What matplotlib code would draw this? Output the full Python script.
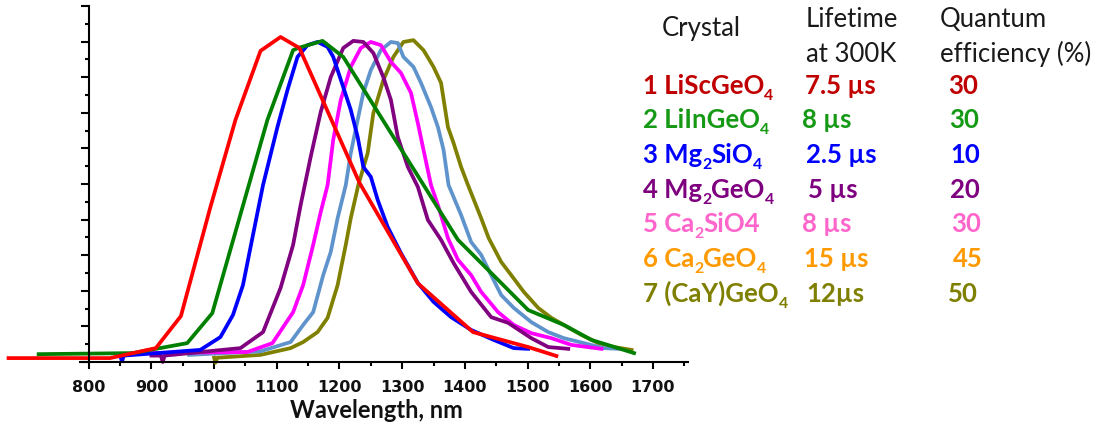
import matplotlib
matplotlib.use('Agg')
import matplotlib.pyplot as plt
from matplotlib.ticker import MultipleLocator

# Emission spectra (wavelength in nm, intensity in arbitrary units)
red_wl = [672, 834, 907, 947, 994, 1034, 1074, 1106, 1136, 1232, 1325, 1413, 1501, 1546]
red_int = [0.11, 0.11, 0.39, 1.29, 4.35, 6.80, 8.74, 9.13, 8.82, 5.03, 2.21, 0.84, 0.42, 0.17]

green_wl = [720, 870, 957, 997, 1085, 1126, 1134, 1173, 1206, 1389, 1442, 1501, 1558, 1602, 1670]
green_int = [0.22, 0.25, 0.53, 1.37, 6.80, 8.76, 8.82, 9.02, 8.57, 3.43, 2.50, 1.46, 1.04, 0.62, 0.25]

blue_wl = [850, 853, 856, 978, 1010, 1030, 1046, 1062, 1078, 1101, 1117, 1133, 1149, 1165,
           1181, 1190, 1206, 1218, 1229, 1238, 1250, 1261, 1277, 1298, 1325, 1350, 1378,
           1410, 1446, 1478, 1501]
blue_int = [0.18, 0.02, 0.18, 0.34, 0.70, 1.32, 2.16, 3.57, 4.97, 6.60, 7.64, 8.57, 8.90, 8.99,
            8.85, 8.57, 7.72, 7.08, 6.32, 5.48, 5.20, 4.55, 3.79, 3.06, 2.22, 1.69, 1.26,
            0.90, 0.62, 0.39, 0.37]

purple_wl = [900, 915, 918, 921, 1042, 1078, 1106, 1126, 1138, 1154, 1170, 1186, 1206, 1222,
             1238, 1254, 1270, 1282, 1293, 1309, 1325, 1341, 1362, 1382, 1410, 1442, 1469,
             1506, 1533, 1565]
purple_int = [0.18, 0.18, 0.0, 0.18, 0.39, 0.84, 2.08, 3.29, 4.41, 5.76, 7.02, 8.00, 8.82, 9.02,
              8.99, 8.68, 8.00, 7.36, 6.32, 5.48, 4.92, 3.99, 3.43, 2.78, 1.97, 1.26, 1.10,
              0.67, 0.42, 0.37]

magenta_wl = [870, 1053, 1093, 1126, 1142, 1158, 1170, 1181, 1190, 1202, 1218, 1234, 1250,
              1266, 1282, 1298, 1314, 1325, 1334, 1346, 1357, 1373, 1389, 1410, 1426, 1453,
              1478, 1506, 1538, 1570, 1618]
magenta_int = [0.25, 0.28, 0.53, 1.40, 2.16, 3.29, 4.21, 4.97, 6.24, 7.36, 8.29, 8.82, 8.99,
               8.90, 8.43, 8.12, 7.56, 6.71, 5.96, 4.97, 4.41, 3.48, 2.87, 2.44, 1.97, 1.40,
               1.04, 0.81, 0.67, 0.48, 0.37]

steel_wl = [960, 1074, 1122, 1142, 1158, 1174, 1186, 1197, 1210, 1218, 1229, 1238, 1250, 1266,
            1282, 1293, 1302, 1318, 1330, 1346, 1357, 1366, 1374, 1394, 1410, 1426, 1442, 1458,
            1478, 1506, 1533, 1558, 1590, 1622, 1645]
steel_int = [0.2, 0.3, 0.56, 1.04, 1.40, 2.44, 3.09, 4.04, 4.97, 5.87, 6.80, 7.56, 8.20, 8.76,
             8.99, 8.96, 8.57, 8.29, 7.84, 7.16, 6.60, 5.96, 4.97, 4.13, 3.37, 3.01, 2.44, 1.88,
             1.52, 1.12, 0.84, 0.67, 0.53, 0.39, 0.37]

olive_wl = [1000, 1002, 1005, 1074, 1122, 1142, 1165, 1181, 1197, 1210, 1218, 1230, 1245, 1254,
            1270, 1286, 1302, 1318, 1334, 1350, 1362, 1373, 1382, 1394, 1405, 1426, 1438, 1458,
            1474, 1494, 1517, 1538, 1558, 1586, 1613, 1638, 1666]
olive_int = [0.12, -0.02, 0.12, 0.2, 0.39, 0.56, 0.84, 1.24, 2.16, 3.29, 4.04, 4.97, 5.87, 6.99,
             7.92, 8.57, 8.99, 9.04, 8.76, 8.29, 7.84, 6.60, 6.15, 5.48, 4.97, 4.04, 3.48, 2.81,
             2.44, 1.97, 1.52, 1.24, 1.04, 0.76, 0.53, 0.42, 0.34]

# Table of crystal properties ('_' marks a one-character subscript)
crystals = ['1 LiScGeO_4', '2 LiInGeO_4', '3 Mg_2SiO_4', '4 Mg_2GeO_4',
            '5 Ca_2SiO4', '6 Ca_2GeO_4', '7 (CaY)GeO_4']
lifetimes = ['7.5 µs', '8 µs', '2.5 µs', '5 µs', '8 µs', '15 µs', '12µs']
efficiencies = ['30', '30', '10', '20', '30', '45', '50']
text_colors = ['#C00000', '#169A16', '#0000FF', '#7F007F', '#FF66CC', '#FF9900', '#7F7F00']

W, H = 1104, 437
FS = 18.5

fig = plt.figure(figsize=(W / 100, H / 100), dpi=100)
ax = fig.add_axes([80 / W, 1 - 362 / H, 608 / W, 356 / H])

series = [
    (olive_wl, olive_int, '#808000'),
    (steel_wl, steel_int, '#5F93CB'),
    (magenta_wl, magenta_int, '#FF00FF'),
    (purple_wl, purple_int, '#800080'),
    (blue_wl, blue_int, '#0000FF'),
    (green_wl, green_int, '#008000'),
    (red_wl, red_int, '#FF0000'),
]
for wl, inten, color in series:
    ax.plot(wl, inten, color=color, linewidth=2.7, clip_on=False,
            solid_joinstyle='round')

ax.set_xlim(786, 1756)
ax.set_ylim(0, 10)
ax.spines['left'].set_position(('data', 800))
ax.spines['top'].set_visible(False)
ax.spines['right'].set_visible(False)
for side in ('left', 'bottom'):
    ax.spines[side].set_linewidth(1.5)
ax.xaxis.set_major_locator(MultipleLocator(100))
ax.xaxis.set_minor_locator(MultipleLocator(50))
ax.yaxis.set_major_locator(MultipleLocator(1))
ax.yaxis.set_minor_locator(MultipleLocator(0.5))
ax.tick_params(axis='x', which='major', length=5, width=1.5, pad=8)
ax.tick_params(axis='x', which='minor', length=3, width=1.5)
ax.tick_params(axis='y', which='major', length=6, width=1.5, labelleft=False)
ax.tick_params(axis='y', which='minor', length=3, width=1.5)
for label in ax.get_xticklabels():
    label.set_fontweight('bold')
    label.set_fontsize(11.5)
    label.set_color('#111111')

fig.text(376 / W, 1 - 410 / H, 'Wavelength, nm', ha='center', va='center',
         family='Lato', fontweight='bold', fontsize=17, color='#111111')

renderer = fig.canvas.get_renderer()


def put(x, y, s, color='#1a1a1a', weight='normal'):
    """Write s with its baseline at pixel (x, y); '_c' puts c in subscript."""
    pieces = []
    i = 0
    while i < len(s):
        if s[i] == '_':
            pieces.append((s[i + 1], True))
            i += 2
        else:
            j = s.find('_', i)
            j = len(s) if j < 0 else j
            pieces.append((s[i:j], False))
            i = j
    for text, sub in pieces:
        size = FS * 0.62 if sub else FS
        yy = y + 6 if sub else y
        t = fig.text(x / W, 1 - yy / H, text, ha='left', va='baseline',
                     family='Lato', fontsize=size, fontweight=weight,
                     color=color)
        x += t.get_window_extent(renderer).width


put(662, 36, 'Crystal')
put(806, 27, 'Lifetime')
put(806, 62, 'at 300K')
put(940, 27, 'Quantum')
put(940, 62, 'efficiency (%)')

row_base = [94, 128, 163, 198, 232, 267, 302]
life_x = [805, 802, 806, 808, 802, 804, 806]
eff_x = [948, 949, 950, 950, 951, 953, 948]
for i in range(len(crystals)):
    put(643, row_base[i], crystals[i], text_colors[i], 'bold')
    put(life_x[i], row_base[i], lifetimes[i], text_colors[i], 'bold')
    put(eff_x[i], row_base[i], efficiencies[i], text_colors[i], 'bold')

fig.savefig('out.png', dpi=100)
